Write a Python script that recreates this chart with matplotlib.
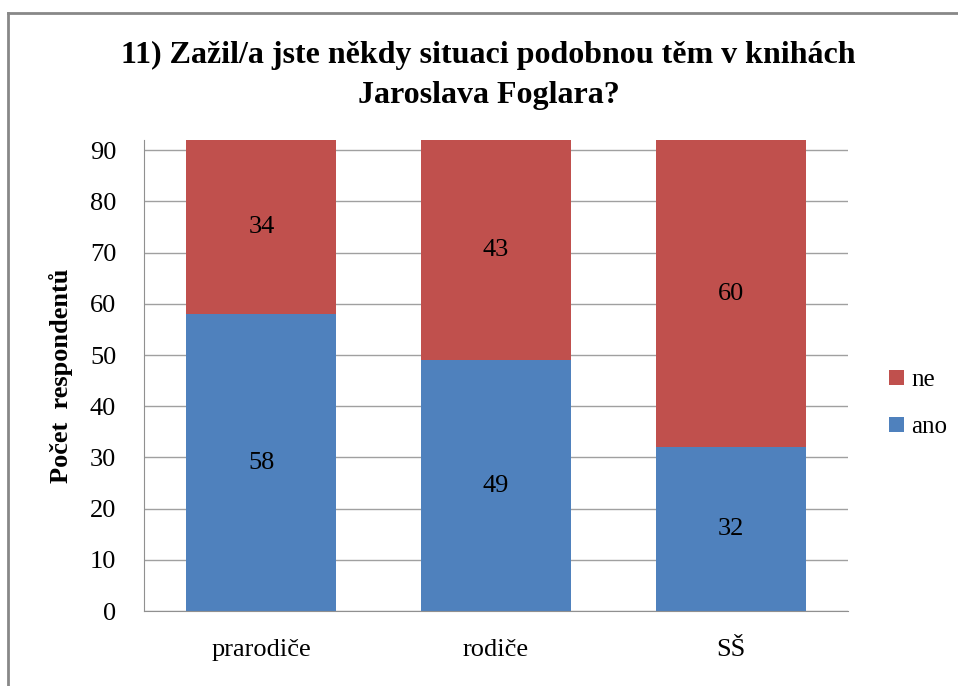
import matplotlib.pyplot as plt
from matplotlib.lines import Line2D

categories = ['prarodiče', 'rodiče', 'SŠ']
ano = [58, 49, 32]
ne = [34, 43, 60]

blue = '#4F81BD'
red = '#C0504D'

plt.rcParams['font.family'] = ['Liberation Serif', 'DejaVu Serif']

fig = plt.figure(figsize=(9.58, 6.86), dpi=100)
ax = fig.add_axes([144 / 958, 1 - 611 / 686, 704 / 958, 471 / 686])

x = range(len(categories))
b1 = ax.bar(x, ano, width=0.64, color=blue, label='ano', zorder=2)
b2 = ax.bar(x, ne, width=0.64, bottom=ano, color=red, label='ne', zorder=2)
ax.bar_label(b1, label_type='center', fontsize=19)
ax.bar_label(b2, label_type='center', fontsize=19)

ax.set_xlim(-0.5, 2.5)
ax.set_ylim(0, 92)
ax.set_yticks(range(0, 91, 10))
ax.set_xticks(list(x))
ax.set_xticklabels(categories)
ax.tick_params(axis='x', length=0, pad=20, labelsize=19)
ax.tick_params(axis='y', length=0, pad=20, labelsize=19)
ax.yaxis.grid(True, color='#a0a0a0', linewidth=1, zorder=0)
for s in ['top', 'right']:
    ax.spines[s].set_visible(False)
ax.spines['left'].set_color('#909090')
ax.spines['bottom'].set_color('#909090')
ax.set_ylabel('Počet  respondentů', fontsize=19, fontweight='bold', labelpad=12)

fig.text(0.51, 1 - 55 / 686, '11) Zažil/a jste někdy situaci podobnou těm v knihách',
         ha='center', va='center', fontsize=23, fontweight='bold')
fig.text(0.51, 1 - 95 / 686, 'Jaroslava Foglara?',
         ha='center', va='center', fontsize=23, fontweight='bold')

handles, labels = ax.get_legend_handles_labels()
ax.legend(handles[::-1], labels[::-1], loc='center left', bbox_to_anchor=(1.026, 0.44),
          frameon=False, fontsize=18, handlelength=0.6, handleheight=0.6,
          handletextpad=0.3, labelspacing=1.0)

# outer frame (top and left edges visible)
fig.add_artist(Line2D([8 / 958, 8 / 958], [0, 1 - 13 / 686], transform=fig.transFigure,
                      color='#888888', linewidth=2))
fig.add_artist(Line2D([8 / 958, 1], [1 - 13 / 686, 1 - 13 / 686], transform=fig.transFigure,
                      color='#888888', linewidth=2))

plt.savefig('out.png', dpi=100)
